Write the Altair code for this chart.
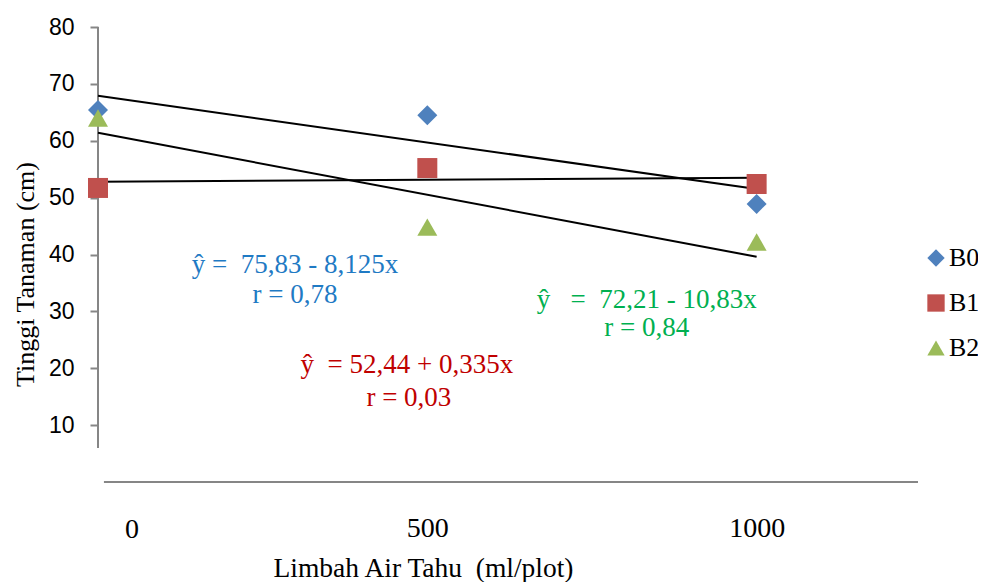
import altair as alt
import pandas as pd

# ---- data ----
doses = [0, 500, 1000]
series = ["B0", "B1", "B2"]
b0 = [65.4, 64.5, 48.9]
b1 = [51.7, 55.2, 52.4]
b2 = [64.0, 44.8, 42.2]
trend_start = [67.9, 52.8, 61.4]   # fitted value at dose 0
trend_end = [51.5, 53.5, 39.6]     # fitted value at dose 1000
y_ticks = [10, 20, 30, 40, 50, 60, 70, 80]
x_ticks = [0, 500, 1000]

NB = "\u00a0"
ann_text = [f"ŷ ={NB} 75,83 - 8,125x", "r = 0,78",
            f"ŷ {NB}{NB}= {NB}72,21 - 10,83x", "r = 0,84",
            f"ŷ {NB}= 52,44 + 0,335x", "r = 0,03"]
ann_series = ["B0", "B0", "B2", "B2", "B1", "B1"]
ann_x = [299, 299, 833, 833, 469, 472]
ann_y = [38.2, 32.9, 32.0, 27.1, 20.6, 14.8]

marker_colors = ["#4F81BD", "#C0504D", "#9BBB59"]
text_colors = {"B0": "#1F7AC4", "B1": "#C00000", "B2": "#00B050"}

# ---- tables ----
rows = []
for s, vals in zip(series, [b0, b1, b2]):
    for d, v in zip(doses, vals):
        rows.append({"dose": d, "value": v, "series": s})
pts = pd.DataFrame(rows)

trend = pd.DataFrame({"series": series, "x0": doses[0], "x1": doses[-1],
                      "y0": trend_start, "y1": trend_end})
ann = pd.DataFrame({"text": ann_text, "series": ann_series, "x": ann_x, "y": ann_y})

serif = "Liberation Serif"
xscale = alt.Scale(domain=[0, 1245], nice=False, zero=False)
yscale = alt.Scale(domain=[0, 80], nice=False)

points = alt.Chart(pts).mark_point(filled=True, opacity=1, size=400, strokeWidth=0).encode(
    x=alt.X("dose:Q", scale=xscale,
            axis=alt.Axis(title=f"Limbah Air Tahu {NB}(ml/plot)", values=x_ticks, format="d",
                          labelExpr="datum.value == 0 ? '' : datum.label",
                          labelFont=serif, labelFontSize=28, labelColor="black",
                          labelPadding=32, ticks=False, grid=False, domain=False,
                          titleFont=serif, titleFontSize=27.5, titleFontWeight="normal",
                          titleColor="black", titleX=325, titleY=86,
                          titleBaseline="middle")),
    y=alt.Y("value:Q", scale=yscale,
            axis=alt.Axis(title="Tinggi Tanaman (cm)", values=y_ticks,
                          labelFont="Liberation Sans", labelFontSize=23,
                          labelColor="black", labelPadding=16,
                          tickSize=8, tickColor="#868686", tickWidth=2,
                          domain=False, grid=False,
                          titleFont=serif, titleFontSize=26, titleFontWeight="normal",
                          titleColor="black", titleX=-60, titleY=247)),
    color=alt.Color("series:N", scale=alt.Scale(domain=series, range=marker_colors),
                    legend=alt.Legend(title=None, orient="none", legendX=825, legendY=218,
                                      labelFont=serif, labelFontSize=26, labelColor="black",
                                      symbolSize=300, symbolStrokeWidth=0, rowPadding=19,
                                      labelOffset=0)),
    shape=alt.Shape("series:N", scale=alt.Scale(domain=series,
                                                 range=["diamond", "square", "triangle-up"])),
)

one = pd.DataFrame({"a": [0]})
yline = alt.Chart(one).mark_rule(color="#868686", strokeWidth=2).encode(
    x=alt.datum(0, scale=xscale), y=alt.datum(80, scale=yscale), y2=alt.datum(6)
)
xline = alt.Chart(one).mark_rule(color="#868686", strokeWidth=2).encode(
    x=alt.datum(9, scale=xscale), x2=alt.datum(1245), y=alt.datum(0, scale=yscale)
)

trends = alt.Chart(trend).mark_rule(color="black", strokeWidth=2).encode(
    x=alt.X("x0:Q", scale=xscale), x2="x1:Q",
    y=alt.Y("y0:Q", scale=yscale), y2="y1:Q",
)

zero_label = alt.Chart(pd.DataFrame({"d": [x_ticks[0]], "t": [str(x_ticks[0])]})).mark_text(
    font=serif, fontSize=28, color="black", dx=34, baseline="middle"
).encode(x=alt.X("d:Q", scale=xscale), y=alt.value(503), text="t:N")

ann_layers = []
for s in series:
    ann_layers.append(
        alt.Chart(ann[ann["series"] == s]).mark_text(
            font=serif, fontSize=27, color=text_colors[s], baseline="middle", align="center"
        ).encode(x=alt.X("x:Q", scale=xscale), y=alt.Y("y:Q", scale=yscale), text="text:N")
    )

chart = alt.layer(yline, xline, trends, points, zero_label, *ann_layers).properties(
    width=820, height=455,
    autosize=alt.AutoSizeParams(type="none"),
    padding={"left": 90, "top": 19, "right": 60, "bottom": 100},
).configure_view(stroke=None)

chart.save("out.html", embed_options={"renderer": "svg", "actions": False})
